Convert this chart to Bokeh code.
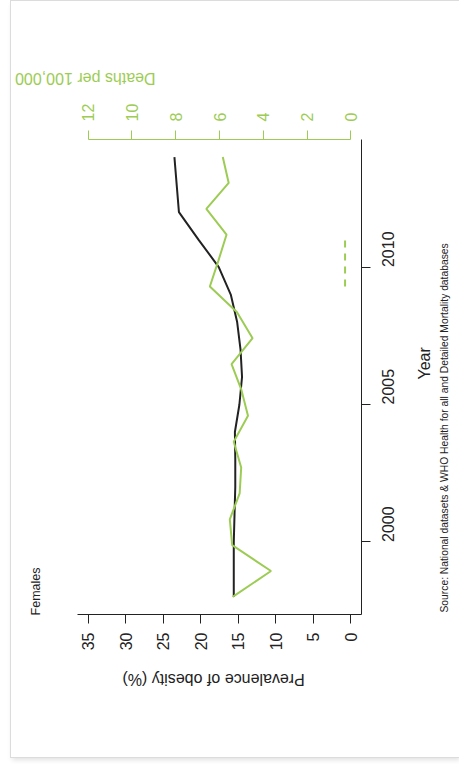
import math
from bokeh.plotting import figure
from bokeh.models import Range1d, LinearAxis, FixedTicker
from bokeh.embed import file_html
from bokeh.resources import INLINE

# ---- data ----
prev_years = list(range(1998, 2015))
prevalence = [15.6, 15.6, 15.6, 15.5, 15.4, 15.4, 15.45, 14.85, 14.5, 14.7,
              15.15, 16.0, 17.6, 20.3, 22.9, 23.2, 23.5]
death_years = list(range(1997, 2015))
deaths = [5.40, 3.65, 5.42, 5.53, 5.08, 5.01, 5.35, 4.70, 5.00, 5.45,
          4.49, 5.20, 6.44, 6.05, 5.68, 6.60, 5.58, 5.85]
dash_years = [2009, 2011]
dash_deaths = [0.27, 0.27]
prev_ticks = [0, 5, 10, 15, 20, 25, 30, 35]
death_ticks = [0, 2, 4, 6, 8, 10, 12]
year_ticks = [2000, 2005, 2010]

TITLE = "Females"
PREV_LABEL = "Prevalence of obesity (%)"
DEATH_LABEL = "Deaths per 100,000"
YEAR_LABEL = "Year"
SOURCE = "Source: National datasets & WHO Health for all and Detailed Mortality databases"

GREEN = "#9dcc55"
DARK = "#222222"
FONT = "Liberation Sans"

W, H = 448, 756
OX, OY = 11, 1                            # figure position on the page
FX0, FX1, FY0, FY1 = 77, 361, 139, 614   # plot frame in page px
XR = (36.4, -1.4)
YR = (1997.36, 2014.64)
p = figure(width=W, height=H,
           x_range=Range1d(*XR), y_range=Range1d(*YR),
           x_axis_location="below", y_axis_location="right",
           output_backend="svg", toolbar_location=None,
           min_border_left=FX0 - OX, min_border_right=W - (FX1 - OX),
           min_border_top=FY0 - OY, min_border_bottom=H - (FY1 - OY),
           outline_line_color=None, background_fill_color="white",
           border_fill_color="white", margin=(OY, 0, 0, OX),
           styles={"outline": "1px solid #dcdcdc",
                   "box-shadow": "1px 3px 5px rgba(0,0,0,0.12)"})
p.extra_x_ranges = {"deaths": Range1d(12.48, -0.48)}
p.extra_y_ranges = {"dyears": Range1d(1997 - 0.68, 2014 + 0.68)}
p.xgrid.visible = False
p.ygrid.visible = False

def style_axis(ax, color, standoff=9):
    ax.major_tick_out = 9
    ax.major_tick_in = 0
    ax.minor_tick_line_color = None
    ax.major_tick_line_color = color
    ax.axis_line_color = color
    ax.major_label_text_color = color
    ax.major_label_text_font = FONT
    ax.major_label_text_font_size = "16px"
    ax.major_label_orientation = math.pi / 2
    ax.major_label_standoff = standoff

xa = p.xaxis[0]
xa.ticker = FixedTicker(ticks=prev_ticks)
style_axis(xa, DARK)

ya = p.yaxis[0]
ya.ticker = FixedTicker(ticks=year_ticks)
style_axis(ya, DARK, standoff=18)

ta = LinearAxis(x_range_name="deaths", ticker=FixedTicker(ticks=death_ticks),
                bounds=(0, 12))
style_axis(ta, GREEN)
p.add_layout(ta, "above")

# page pixel -> data coordinate helpers (for placing the text-only axes)
def dx(px):
    return round(XR[0] + (px - FX0) * (XR[1] - XR[0]) / (FX1 - FX0), 4)

def dy(py):
    return round(YR[0] + (FY1 - py) * (YR[1] - YR[0]) / (FY1 - FY0), 4)

def text_axis(side, pos, text, size, color, angle, standoff):
    ax = LinearAxis(ticker=FixedTicker(ticks=[pos]),
                    major_label_overrides={pos: text},
                    major_tick_out=0, major_tick_in=0,
                    minor_tick_out=0, minor_tick_in=0,
                    axis_line_color=None, major_tick_line_color=None,
                    minor_tick_line_color=None,
                    major_label_standoff=standoff,
                    major_label_orientation=angle,
                    major_label_text_font=FONT,
                    major_label_text_font_size=size,
                    major_label_text_color=color)
    p.add_layout(ax, side)
    return ax

text_axis("below", dx(122), PREV_LABEL, "16px", DARK, math.pi, 26)
text_axis("above", dx(148), DEATH_LABEL, "16px", GREEN, math.pi, 22)
text_axis("right", dy(379), YEAR_LABEL, "16px", DARK, math.pi / 2, 21)
text_axis("right", dy(612), SOURCE, "10.3px", DARK, math.pi / 2, 0)
text_axis("left", dy(567), TITLE, "12.5px", DARK, math.pi / 2, 41)

# series
p.line(x=prevalence, y=prev_years, line_color=DARK, line_width=2)
p.line(x=deaths, y=death_years, x_range_name="deaths", y_range_name="dyears",
       line_color=GREEN, line_width=2)
p.line(x=dash_deaths, y=dash_years, x_range_name="deaths", y_range_name="dyears",
       line_color=GREEN, line_width=2, line_dash="7 6")

open("out.html", "w").write(file_html(p, INLINE))
